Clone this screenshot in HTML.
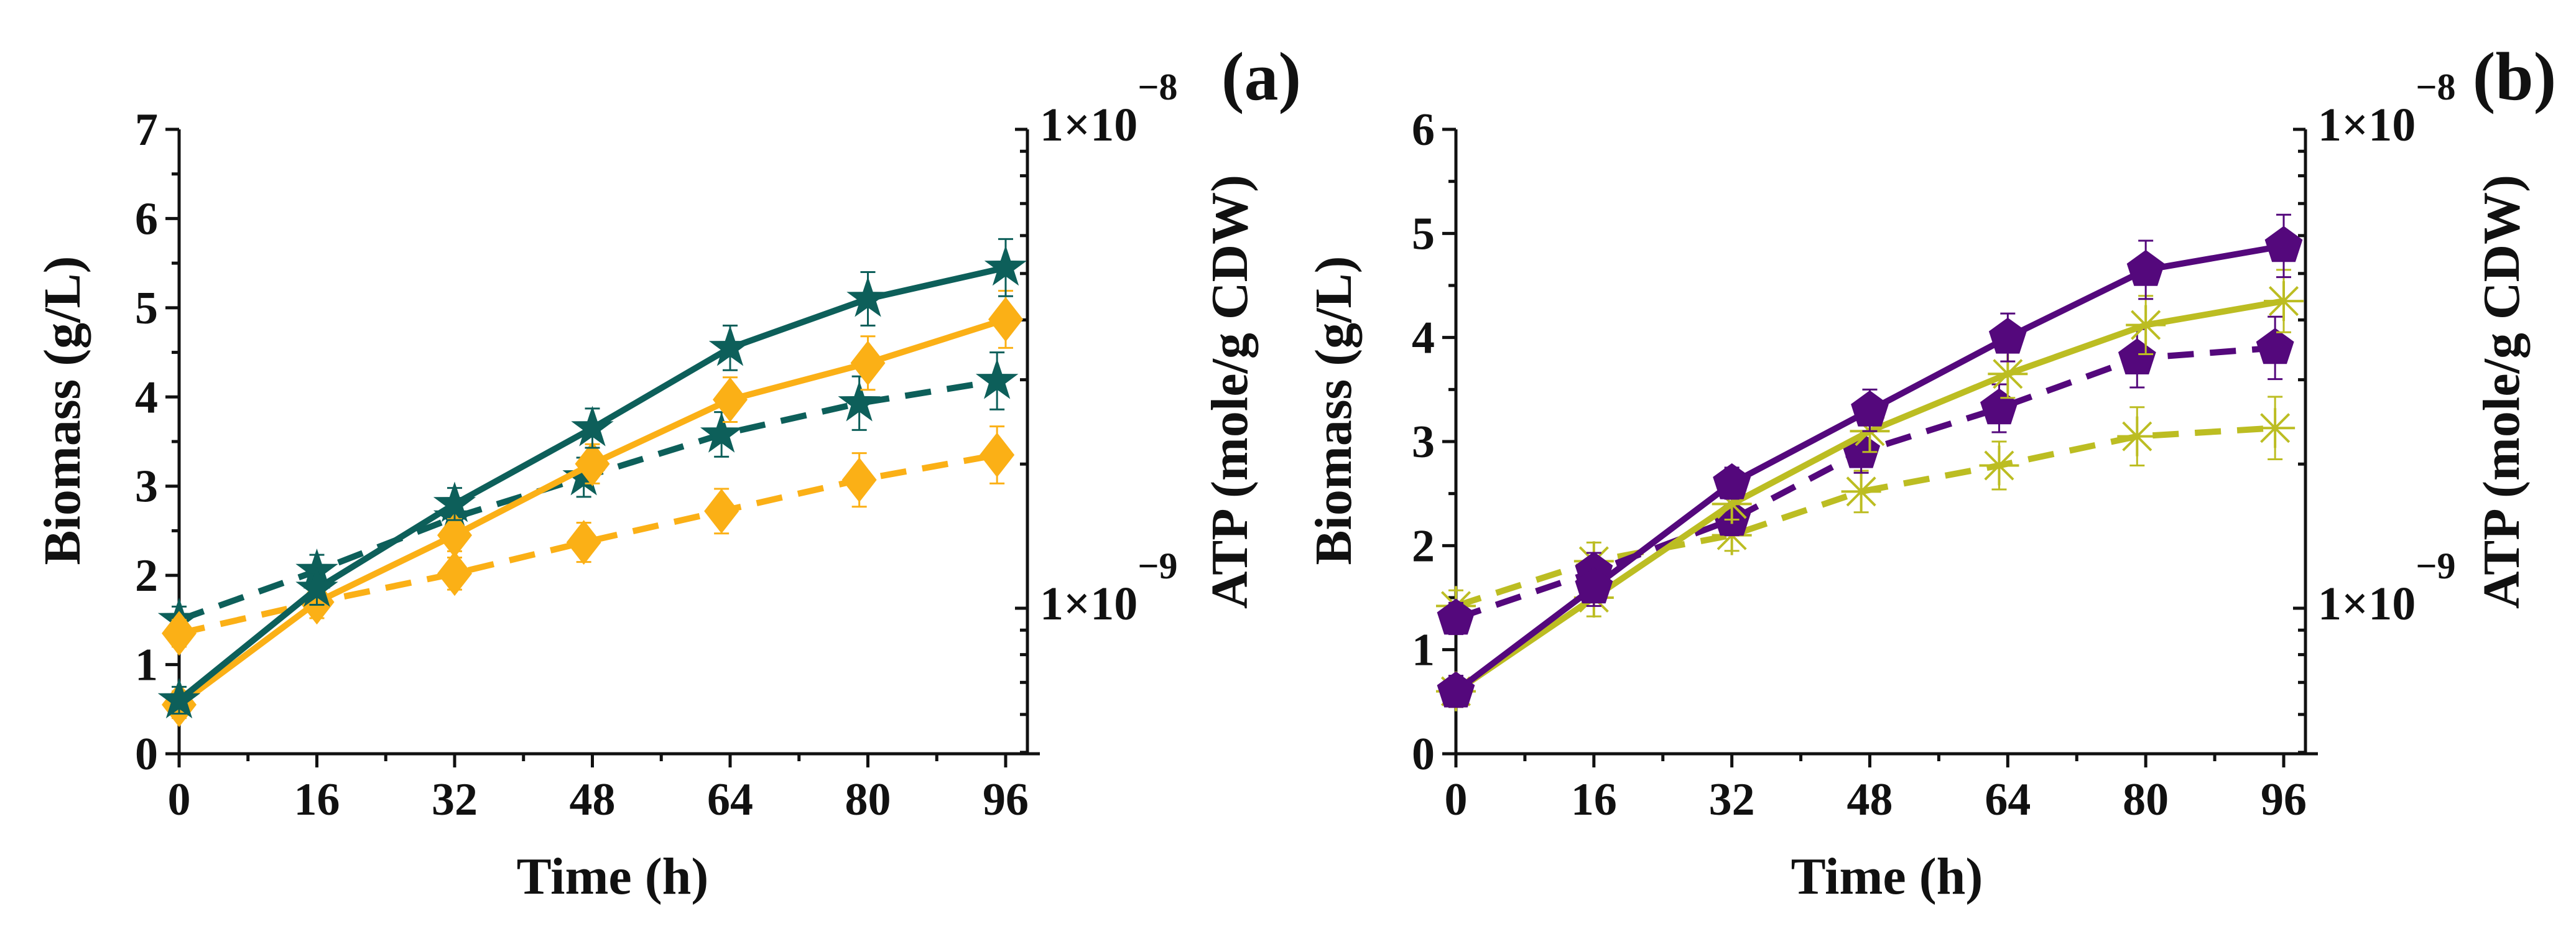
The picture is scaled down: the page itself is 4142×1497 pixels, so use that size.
<!DOCTYPE html>
<html><head><meta charset="utf-8"><style>
html,body{margin:0;padding:0;background:#fff}
svg{display:block}
text{font-family:"Liberation Serif",serif;font-weight:bold;fill:#111}
</style></head><body>
<svg id="chart" width="4142" height="1497" viewBox="0 0 4142 1497" xmlns="http://www.w3.org/2000/svg"></svg>
<script>
const timeTicks = [0,16,32,48,64,80,96];
const timePoints = [0,16,32,48,64,80,96];
const dashedTimePoints = [0,16,32,47,63,79,95];
const yTicksA = [0,1,2,3,4,5,6,7];
const yTicksB = [0,1,2,3,4,5,6];
const atpMajorTicks = [1e-8, 1e-9];
const atpMajorLabels = ["−8", "−9"];
// Panel (a)
const tealSolid = [0.6,1.85,2.8,3.65,4.55,5.1,5.45];
const orangeSolid = [0.55,1.7,2.45,3.25,3.97,4.38,4.87];
const tealDashed = [1.5,2.05,2.65,3.1,3.58,3.93,4.18];
const orangeDashed = [1.35,1.7,2.02,2.37,2.72,3.07,3.35];
// Panel (b)
const purpleSolid = [0.6,1.6,2.6,3.3,4.0,4.65,4.88];
const oliveSolid = [0.6,1.5,2.4,3.1,3.65,4.12,4.35];
const purpleDashed = [1.3,1.75,2.25,2.9,3.32,3.8,3.9];
const oliveDashed = [1.42,1.85,2.1,2.52,2.77,3.05,3.13];
const errA = [0.15,0.18,0.18,0.22,0.25,0.3,0.32];
const errB = [0.15,0.18,0.15,0.2,0.23,0.28,0.3];

const svg = document.getElementById('chart');
const NS = 'http://www.w3.org/2000/svg';
function mk(tag, attrs, parent){
  const e = document.createElementNS(NS, tag);
  for (const k in attrs) e.setAttribute(k, attrs[k]);
  (parent||svg).appendChild(e);
  return e;
}

function drawPanel(p){
  const g = mk('g', {});
  
  
  const top = 208, bottom = 1212;
  const xs = t => p.x0 + (t/96)*(p.x96 - p.x0);
  const ys = v => bottom - (v/p.ymax)*(bottom - top);
  const ya = v => top + (-8 - Math.log10(v))*770;

  const ax = mk('g', {stroke:'#111','stroke-width':5,fill:'none'}, g);
  
  
  mk('line',{x1:p.x0,y1:top,x2:p.x0,y2:bottom+2},ax);
  mk('line',{x1:p.x0-2,y1:bottom,x2:p.xr+20,y2:bottom},ax);
  mk('line',{x1:p.xr,y1:top,x2:p.xr,y2:bottom},ax);
  mk('line',{x1:p.xr-20,y1:top,x2:p.xr,y2:top},ax);

  for (let i=0;i<timeTicks.length;i++){
    const t = timeTicks[i];
    mk('line',{x1:xs(t),y1:bottom,x2:xs(t),y2:bottom+22},ax);
    if (i<timeTicks.length-1) mk('line',{x1:xs(t+8),y1:bottom,x2:xs(t+8),y2:bottom+12},ax);
    const tx = mk('text',{x:xs(t),y:1310,'font-size':74,'text-anchor':'middle'},g);
    tx.textContent = t;
    
    
  }
  const yt = p.yticks;
  for (let i=0;i<yt.length;i++){
    const v = yt[i];
    mk('line',{x1:p.x0-22,y1:ys(v),x2:p.x0,y2:ys(v)},ax);
    if (i<yt.length-1) mk('line',{x1:p.x0-12,y1:ys(v+0.5),x2:p.x0,y2:ys(v+0.5)},ax);
    const tx = mk('text',{x:p.x0-34,y:ys(v)+25,'font-size':74,'text-anchor':'end'},g);
    tx.textContent = v;
    
    
  }
  for (let m=2;m<=9;m++){
    const v1 = m*1e-9;
    if (ya(v1) >= top) mk('line',{x1:p.xr-12,y1:ya(v1),x2:p.xr,y2:ya(v1)},ax);
    const v2 = m*1e-10;
    if (ya(v2) <= bottom) mk('line',{x1:p.xr-12,y1:ya(v2),x2:p.xr,y2:ya(v2)},ax);
  }
  for (let i=0;i<atpMajorTicks.length;i++){
    const y = ya(atpMajorTicks[i]);
    mk('line',{x1:p.xr-20,y1:y,x2:p.xr,y2:y},ax);
    const tx = mk('text',{x:p.xr+20,y:y+18,'font-size':76},g);
    
    
    tx.appendChild(document.createTextNode('1×10'));
    const sp = mk('tspan',{dy:-66,'font-size':60},tx);
    sp.textContent = atpMajorLabels[i];
  }

  p.series.forEach(s=>{
    const sg = mk('g',{},g);
    
    
    const tp = s.dashed ? dashedTimePoints : timePoints;
    const pts = s.vals.map((v,i)=>[xs(tp[i]), ys(v)]);
    s.vals.forEach((v,i)=>{
      const x = xs(tp[i]), e = p.err[i];
      mk('line',{x1:x,y1:ys(v+e),x2:x,y2:ys(v-e),stroke:s.color,'stroke-width':3},sg);
      mk('line',{x1:x-12,y1:ys(v+e),x2:x+12,y2:ys(v+e),stroke:s.color,'stroke-width':3},sg);
      mk('line',{x1:x-12,y1:ys(v-e),x2:x+12,y2:ys(v-e),stroke:s.color,'stroke-width':3},sg);
    });
    const pl = mk('polyline',{points:pts.map(q=>q.join(',')).join(' '),fill:'none',stroke:s.color,'stroke-width':10,'stroke-linejoin':'round'},sg);
    if (s.dashed) pl.setAttribute('stroke-dasharray','42 26');
    
    
    pts.forEach(([x,y])=>{
      let m;
      if (s.marker==='diamond'){
        m = mk('polygon',{points:`${x},${y-36} ${x+28},${y} ${x},${y+36} ${x-28},${y}`,fill:s.color},sg);
      } else if (s.marker==='star' || s.marker==='pent'){
        const n=5, R = s.marker==='star'?36:32, r = s.marker==='star'?14:R;
        const a=[];
        for(let k=0;k<n*2;k++){
          if (s.marker==='pent' && k%2) continue;
          const rr = k%2?r:R, ang = -Math.PI/2 + k*Math.PI/n;
          a.push((x+rr*Math.cos(ang)).toFixed(1)+','+(y+rr*Math.sin(ang)).toFixed(1));
        }
        m = mk('polygon',{points:a.join(' '),fill:s.color},sg);
      } else {
        m = mk('g',{stroke:s.color,'stroke-width':4},sg);
        for(let k=0;k<4;k++){
          const ang = k*Math.PI/4, R=32;
          mk('line',{x1:x-R*Math.cos(ang),y1:y-R*Math.sin(ang),x2:x+R*Math.cos(ang),y2:y+R*Math.sin(ang)},m);
        }
      }
      
      
    });
  });

  let t = mk('text',{x:p.bioX,y:660,'font-size':84,'text-anchor':'middle',transform:`rotate(-90 ${p.bioX} 660)`},g);
  t.textContent = 'Biomass (g/L)';
  
  
  t = mk('text',{x:p.atpX,y:630,'font-size':84,'text-anchor':'middle',transform:`rotate(-90 ${p.atpX} 630)`},g);
  t.textContent = 'ATP (mole/g CDW)';
  
  
  t = mk('text',{x:p.timeX,y:1437,'font-size':84,'text-anchor':'middle'},g);
  t.textContent = 'Time (h)';
  
  
  t = mk('text',{x:p.labX,y:160,'font-size':110,'text-anchor':'middle'},g);
  t.textContent = p.label;
  
  
}

drawPanel({name:'panel-a', x0:288, x96:1617, xr:1652, ymax:7, yticks:yTicksA, err:errA,
  bioX:128, atpX:2005, timeX:985, labX:2028, label:'(a)',
  series:[
    {name:'teal-dashed',vals:tealDashed,color:'#0d5f5a',dashed:true,marker:'star'},
    {name:'orange-dashed',vals:orangeDashed,color:'#fbb016',dashed:true,marker:'diamond'},
    {name:'orange-solid',vals:orangeSolid,color:'#fbb016',dashed:false,marker:'diamond'},
    {name:'teal-solid',vals:tealSolid,color:'#0d5f5a',dashed:false,marker:'star'}
  ]});
drawPanel({name:'panel-b', x0:2341, x96:3672, xr:3707, ymax:6, yticks:yTicksB, err:errB,
  bioX:2172, atpX:4050, timeX:3034, labX:4043, label:'(b)',
  series:[
    {name:'olive-dashed',vals:oliveDashed,color:'#bcbd22',dashed:true,marker:'ast'},
    {name:'purple-dashed',vals:purpleDashed,color:'#54087c',dashed:true,marker:'pent'},
    {name:'olive-solid',vals:oliveSolid,color:'#bcbd22',dashed:false,marker:'ast'},
    {name:'purple-solid',vals:purpleSolid,color:'#54087c',dashed:false,marker:'pent'}
  ]});
</script>
</body></html>
